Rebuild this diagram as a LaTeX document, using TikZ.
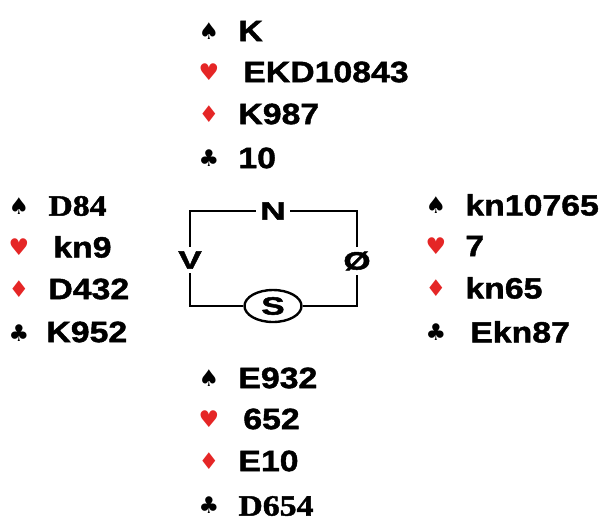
\documentclass[tikz,border=0pt]{standalone}
\usepackage{fontspec}
\setmainfont{Liberation Sans}[FakeStretch=1.15, BoldFeatures={FakeBold=1.5}]
\newfontfamily\timesbold{Liberation Serif}[FakeStretch=1.15, BoldFeatures={FakeBold=1.5}]
\newfontfamily\seatfont{Liberation Sans}[FakeStretch=1.4, BoldFeatures={FakeBold=2}]
\newfontfamily\suitfont{DejaVu Sans}
\usetikzlibrary{positioning}
\usetikzlibrary{shapes.geometric}
\tikzset{card/.style = {anchor=west, inner sep=0pt, font=\fontsize{14.7}{17}\selectfont\bfseries},
         suit/.style = {inner sep=0pt, font=\fontsize{11.5}{13}\selectfont\suitfont},
         seat/.style = {inner sep=2pt, font=\fontsize{12.5}{14}\selectfont\seatfont\bfseries}}
\definecolor{sred}{rgb}{0.9, 0.15, 0.15}
\newcommand{\hand}[6]{%
  \node [suit] (#1s1) at (#2, #3) {♠};
  \node [suit, sred] (#1s2) at (#2, #3+41) {♥};
  \node [suit, sred] (#1s3) at (#2, #3+83) {♦};
  \node [suit] (#1s4) at (#2, #3+127) {♣};
  \node [card] (#1c1) at (#2+29, #3) {#4};
  \node [card] (#1c2) at (#2+29, #3+41) {#5};
  \node [card] (#1c3) at (#2+29, #3+83) {#6};
}

\begin{document}
\begin{tikzpicture}[x=0.5pt, y=-0.5pt]
      \useasboundingbox (0, 0) rectangle (606, 521);

      % the four hands
      \hand{n}{209}{31}{K}{\,EKD10843}{K987}
      \node [card] (nc4) at (238, 158) {10};
      \hand{w}{19}{206}{\timesbold\bfseries D84}{\,kn9}{D432}
      \node [card] (wc4) at (46, 332) {K952};
      \hand{e}{436}{205}{kn10765}{7}{kn65}
      \node [card] (ec4) at (465, 332) {\,Ekn87};
      \hand{s}{209}{378}{E932}{\,652}{E10}
      \node [card] (sc4) at (238, 506) {\timesbold\bfseries D654};

      % the table
      \node [seat] (N) at (273, 211) {N};
      \node [seat] (V) at (190, 260) {V};
      \node [seat] (O) at (357, 261) {Ø};
      \node [seat, draw, ellipse, line width=1.2pt, inner sep=0pt, minimum width=28.5pt, minimum height=16pt] (S) at (273, 306) {S};
      \draw [line width=1.2pt] (N.west) -| (V.north);
      \draw [line width=1.2pt] (V.south) |- (S.west);
      \draw [line width=1.2pt] (S.east) -| (O.south);
      \draw [line width=1.2pt] (O.north) |- (N.east);
    \end{tikzpicture}
\end{document}
